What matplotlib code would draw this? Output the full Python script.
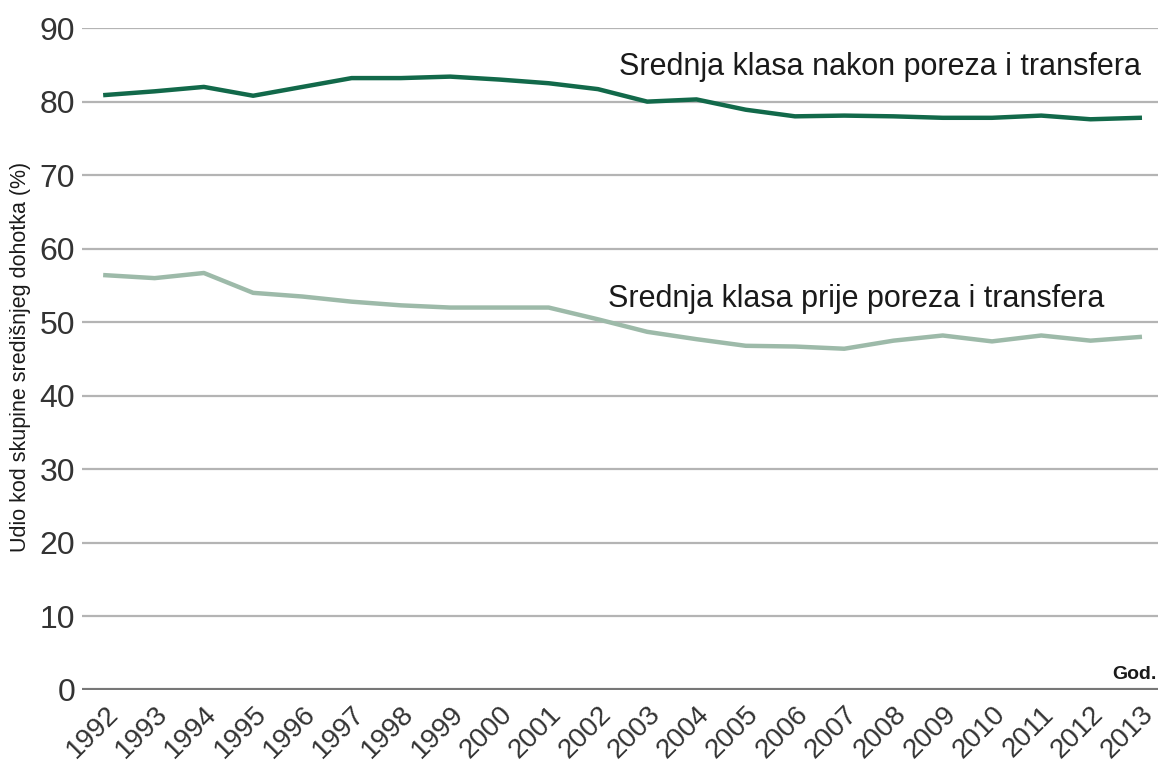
import matplotlib.pyplot as plt

# -------------------------------
# Data
# -------------------------------

years = list(range(1992, 2014))

# nakon poreza i transfera (after taxes and transfers)
after_tax = [80.9, 81.4, 82.0, 80.8, 82.0, 83.2, 83.2, 83.4, 83.0, 82.5, 81.7,
             80.0, 80.3, 78.9, 78.0, 78.1, 78.0, 77.8, 77.8, 78.1, 77.6, 77.8]

# prije poreza i transfera (before taxes and transfers)
before_tax = [56.4, 56.0, 56.7, 54.0, 53.5, 52.8, 52.3, 52.0, 52.0, 52.0, 50.4,
              48.7, 47.7, 46.8, 46.7, 46.4, 47.5, 48.2, 47.4, 48.2, 47.5, 48.0]

y_ticks = [0, 10, 20, 30, 40, 50, 60, 70, 80, 90]

plt.rcParams['font.family'] = ['Liberation Sans', 'DejaVu Sans']

fig = plt.figure(figsize=(11.58, 7.8), dpi=100)
ax = fig.add_axes([0.071, 0.1154, 0.929, 0.8486])

for y in y_ticks[1:]:
    ax.axhline(y, color='#b4b4b4', lw=1.6, zorder=1)
ax.axhline(0, color='#777777', lw=3, zorder=1)

ax.plot(years, after_tax, color='#12694a', lw=3.2, zorder=3)
ax.plot(years, before_tax, color='#9dbaa9', lw=3.2, zorder=3)

ax.text(2013.03, 83.6, 'Srednja klasa nakon poreza i transfera',
        ha='right', va='baseline', fontsize=22, color='#1a1a1a')
ax.text(2012.28, 52.1, 'Srednja klasa prije poreza i transfera',
        ha='right', va='baseline', fontsize=22, color='#1a1a1a')
ax.text(2013.35, 1.0, 'God.', ha='right', va='bottom', fontsize=14,
        fontweight='bold', color='#1a1a1a')

ax.set_xlim(1991.53, 2013.37)
ax.set_ylim(0, 90)
ax.set_yticks(y_ticks)
ax.set_yticklabels([str(v) for v in y_ticks], fontsize=23, color='#333333')
ax.set_xticks(years)
ax.set_xticklabels([str(y) for y in years], rotation=45, ha='right',
                   va='top', rotation_mode='anchor', fontsize=20, color='#333333')
ax.tick_params(axis='both', length=0)
ax.tick_params(axis='y', pad=5)
ax.tick_params(axis='x', pad=8)

for s in ax.spines.values():
    s.set_visible(False)

fig.text(0.018, 0.542, 'Udio kod skupine središnjeg dohotka (%)', rotation=90,
         ha='center', va='center', fontsize=15.5, color='#1a1a1a')

plt.savefig('out.png', dpi=100)
